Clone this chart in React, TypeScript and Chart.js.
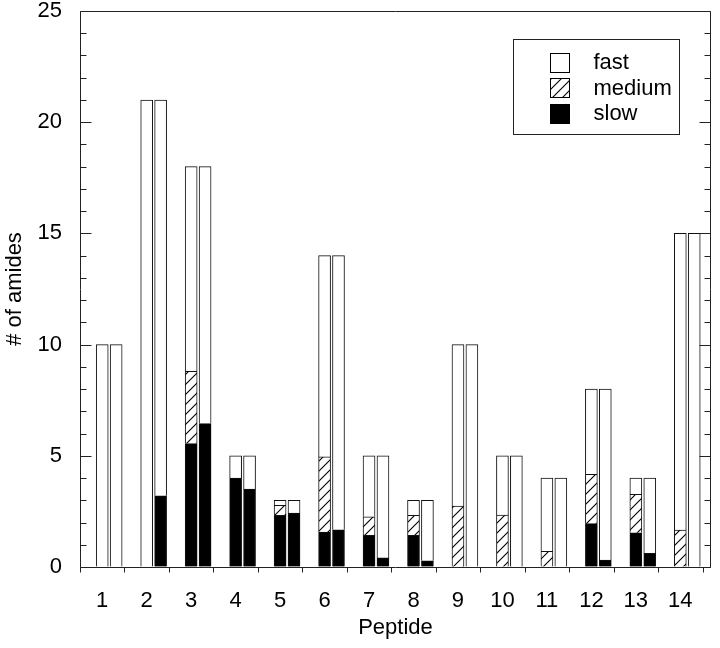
import React, { useEffect, useRef } from 'react';
import { Chart, registerables } from 'chart.js';

Chart.register(...registerables);

// ---------- data ----------
const peptideLabels = ['1', '2', '3', '4', '5', '6', '7', '8', '9', '10', '11', '12', '13', '14'];
const peptideNumbers = [1, 2, 3, 4, 5, 6, 7, 8, 9, 10, 11, 12, 13, 14];

// first (left) bar of each pair
const totalFirst = [10, 21, 18, 5, 3, 14, 5, 3, 10, 5, 4, 8, 4, 15];
const slowFirst = [null, null, 5.55, 4.0, 2.32, 1.57, 1.42, 1.42, null, null, null, 1.95, 1.54, null];
const mediumFirst = [null, null, 3.25, null, 0.45, 3.38, 0.84, 0.9, 2.74, 2.33, 0.71, 2.22, 1.73, 1.66];

// second (right) bar of each pair
const totalSecond = [10, 21, 18, 5, 3, 14, 5, 3, 10, 5, 4, 8, 4, 15];
const slowSecond = [null, 3.2, 6.45, 3.5, 2.42, 1.67, 0.41, 0.28, null, null, null, 0.31, 0.61, null];
const mediumSecond = [null, null, null, null, null, null, null, null, null, null, null, null, null, null];

const yTickValues = [0, 5, 10, 15, 20, 25];
const legendLabels = ['fast', 'medium', 'slow'];

// ---------- layout constants ----------
const PAIR_OFFSET = 0.313;
const FONT = '"Liberation Sans", Arial, Helvetica, sans-serif';

function fastOf(total: number[], slow: (number | null)[], medium: (number | null)[]) {
  return total.map((t, i) => {
    const v = t - (slow[i] || 0) - (medium[i] || 0);
    return v > 0 ? v : null;
  });
}

function points(values: (number | null)[], shift: number) {
  return peptideNumbers
    .map((p, i) => ({ x: p + shift, y: values[i] }))
    .filter((d) => d.y !== null && d.y !== undefined);
}

function makeHatch(): CanvasPattern | string {
  const s = 10;
  const c = document.createElement('canvas');
  c.width = s;
  c.height = s;
  const g = c.getContext('2d');
  if (!g) return '#fff';
  g.fillStyle = '#fff';
  g.fillRect(0, 0, s, s);
  g.strokeStyle = '#000';
  g.lineWidth = 1.1;
  g.beginPath();
  g.moveTo(0, s);
  g.lineTo(s, 0);
  g.moveTo(-2, 2);
  g.lineTo(2, -2);
  g.moveTo(s - 2, s + 2);
  g.lineTo(s + 2, s - 2);
  g.stroke();
  const pat = g.createPattern(c, 'repeat');
  return pat || '#fff';
}

export default function App() {
  const ref = useRef<HTMLCanvasElement | null>(null);

  useEffect(() => {
    const canvas = ref.current;
    if (!canvas) return;
    const hatch = makeHatch();
    const lineColor = '#111';

    const common = {
      borderColor: lineColor,
      borderWidth: 1,
      grouped: false,
      categoryPercentage: 1,
      barPercentage: 1,
      maxBarThickness: 12,
      stack: 'all',
    };

    const fastFirst = fastOf(totalFirst, slowFirst, mediumFirst);
    const fastSecond = fastOf(totalSecond, slowSecond, mediumSecond);

    const frameAndLegend = {
      id: 'frameAndLegend',
      afterDatasetsDraw(chart: any) {
        const ctx = chart.ctx as CanvasRenderingContext2D;
        const { left, right, top, bottom } = chart.chartArea;
        const ys = chart.scales.y;
        const xs = chart.scales.x;
        const L = Math.round(left) + 0.5;
        const R = Math.round(right) - 0.5;
        const T = Math.round(top) + 0.5;
        const B = Math.round(bottom) + 0.5;
        ctx.save();
        ctx.strokeStyle = '#222';
        ctx.lineWidth = 1;
        ctx.beginPath();
        ctx.moveTo(L, T);
        ctx.lineTo(R, T);
        ctx.lineTo(R, B);
        ctx.lineTo(L, B);
        ctx.closePath();
        // y ticks (inward, both sides)
        for (let v = 0; v <= 25; v++) {
          const y = Math.round(ys.getPixelForValue(v)) + 0.5;
          const len = v % 5 === 0 ? 11 : 6;
          ctx.moveTo(L, y);
          ctx.lineTo(L + len, y);
          ctx.moveTo(R, y);
          ctx.lineTo(R - len, y);
        }
        // x ticks (outward) at pair boundaries
        for (let k = 0; k <= peptideNumbers.length; k++) {
          const x = Math.round(xs.getPixelForValue(peptideNumbers[0] - 0.5 + k)) + 0.5;
          ctx.moveTo(x, B);
          ctx.lineTo(x, B + 5);
        }
        ctx.stroke();
        ctx.restore();
      },
      afterDraw(chart: any) {
        const ctx = chart.ctx as CanvasRenderingContext2D;
        const { right, top } = chart.chartArea;
        const boxL = Math.round(right - 198) + 0.5;
        const boxT = Math.round(top + 28) + 0.5;
        const boxW = 166;
        const boxH = 95;
        ctx.save();
        ctx.fillStyle = '#fff';
        ctx.fillRect(boxL, boxT, boxW, boxH);
        ctx.strokeStyle = '#222';
        ctx.lineWidth = 1;
        ctx.strokeRect(boxL, boxT, boxW, boxH);
        const fills: (string | CanvasPattern)[] = ['#fff', hatch, '#000'];
        ctx.font = `22px ${FONT}`;
        ctx.textBaseline = 'middle';
        ctx.textAlign = 'left';
        legendLabels.forEach((label, i) => {
          const sx = boxL + 37;
          const sy = boxT + 13 + i * 25.5;
          const sw = 19;
          ctx.fillStyle = fills[i] as any;
          ctx.fillRect(sx, Math.round(sy) + 0.5, sw, sw);
          ctx.strokeStyle = '#000';
          ctx.strokeRect(sx, Math.round(sy) + 0.5, sw, sw);
          ctx.fillStyle = '#000';
          ctx.fillText(label, boxL + 80, sy + sw / 2 + 1);
        });
        ctx.restore();
      },
    };

    const chart = new Chart(canvas, {
      type: 'bar',
      data: {
        datasets: [
          { ...common, label: 'slow', data: points(slowFirst, 0), backgroundColor: '#000' },
          { ...common, label: 'medium', data: points(mediumFirst, 0), backgroundColor: hatch as any },
          { ...common, label: 'fast', data: points(fastFirst, 0), backgroundColor: '#fff' },
          { ...common, label: 'slow ', data: points(slowSecond, PAIR_OFFSET), backgroundColor: '#000' },
          { ...common, label: 'medium ', data: points(mediumSecond, PAIR_OFFSET), backgroundColor: hatch as any },
          { ...common, label: 'fast ', data: points(fastSecond, PAIR_OFFSET), backgroundColor: '#fff' },
        ] as any,
      },
      options: {
        responsive: false,
        animation: false,
        events: [],
        layout: { padding: { top: 11, right: 9, left: 0, bottom: 0 } },
        plugins: {
          legend: { display: false },
          tooltip: { enabled: false },
        },
        scales: {
          x: {
            type: 'linear',
            offset: false,
            min: 0.5,
            max: 14.69,
            grid: { display: false },
            border: { display: false },
            afterBuildTicks: (scale: any) => {
              scale.ticks = peptideNumbers.map((v) => ({ value: v }));
            },
            afterFit: (scale: any) => {
              scale.height = 81;
            },
            ticks: {
              autoSkip: false,
              maxRotation: 0,
              padding: 13,
              color: '#000',
              font: { family: FONT, size: 22 },
              callback: (_v: any, i: number) => peptideLabels[i],
            },
            title: {
              display: true,
              text: 'Peptide',
              color: '#000',
              font: { family: FONT, size: 22 },
              padding: { top: 0, bottom: 7 },
            },
          },
          y: {
            type: 'linear',
            stacked: true,
            min: 0,
            max: 25,
            grid: {
              display: true,
              drawOnChartArea: false,
              drawTicks: true,
              tickLength: 18,
              color: 'rgba(0,0,0,0)',
            },
            border: { display: false },
            afterBuildTicks: (scale: any) => {
              scale.ticks = yTickValues.map((v) => ({ value: v }));
            },
            afterFit: (scale: any) => {
              scale.width = 80;
            },
            ticks: {
              padding: 0,
              color: '#000',
              font: { family: FONT, size: 22, lineHeight: 1 },
            },
            title: {
              display: true,
              text: '# of amides',
              color: '#000',
              font: { family: FONT, size: 22 },
              padding: { top: 2, bottom: 0 },
            },
          },
        },
      } as any,
      plugins: [frameAndLegend],
    });

    return () => chart.destroy();
  }, []);

  return (
    <div style={{ position: 'absolute', left: 0, top: 0, width: 720, height: 648, background: '#fff' }}>
      <canvas ref={ref} width={720} height={648} style={{ display: 'block' }} />
    </div>
  );
}
